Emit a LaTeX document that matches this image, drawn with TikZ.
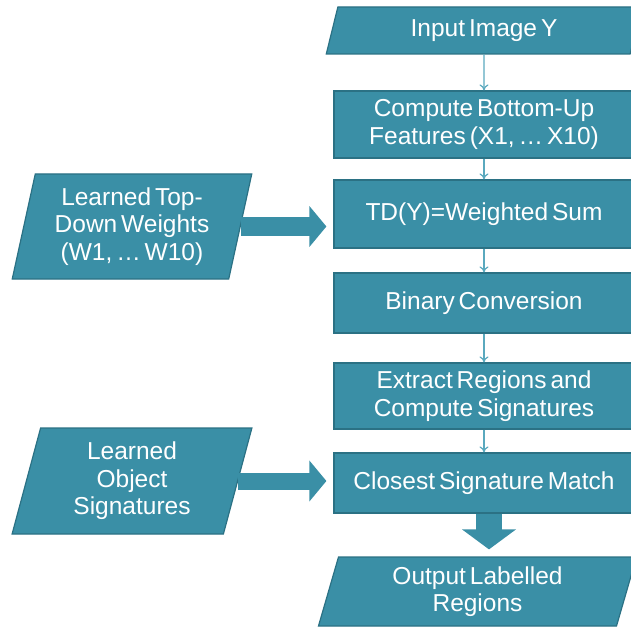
\documentclass[tikz,border=0pt]{standalone}
\usepackage{fontspec}
\setmainfont{Liberation Sans}
\usetikzlibrary{shapes.geometric}
\usetikzlibrary{arrows.meta}
\definecolor{tealfill}{HTML}{3A8FA6}
\definecolor{tealedge}{HTML}{2B7184}
\definecolor{tealline}{HTML}{5AA9BE}
\newcommand{\boxfont}{\fontsize{24.5}{27.5}\selectfont\spaceskip=0.16em plus 0.05em\relax}

\begin{document}
\begin{tikzpicture}[x=1pt,y=-1pt]
	\tikzstyle{stepbox}=[rectangle, draw=tealedge, fill=tealfill, line width=1.2pt, text=white, align=center, minimum width=300pt, inner sep=2pt, font=\boxfont]
	\tikzstyle{iobox}=[stepbox, trapezium, trapezium left angle=77, trapezium right angle=103, trapezium stretches=true]
	\tikzstyle{flowline}=[draw=tealline, line width=1.2pt, -{To[length=6pt,width=9pt]}]
	\tikzstyle{blockarrow}=[draw=tealfill, line width=19pt, -{Triangle[length=17pt,width=40pt]}]

	\useasboundingbox (0,0) rectangle (631,628);
	\clip (0,0) rectangle (631,628);

	% main column
	\node[iobox, minimum width=316pt, minimum height=47pt] (in) at (484,30.5) {Input Image Y};
	\node[stepbox, minimum height=67pt] (feat) at (484,124.5) {Compute Bottom-Up\\Features (X1, … X10)};
	\node[stepbox, minimum height=68pt] (td) at (484,214) {TD(Y)=Weighted Sum};
	\node[stepbox, minimum height=60pt] (bin) at (484,303) {Binary Conversion};
	\node[stepbox, minimum height=66pt] (ext) at (484,396) {Extract Regions and\\Compute Signatures};
	\node[stepbox, minimum height=60pt] (match) at (484,483) {Closest Signature Match};
	\node[iobox, minimum width=319pt, minimum height=69pt] (out) at (477.5,591.5) {Output Labelled\\Regions};

	% learned inputs
	\node[iobox, minimum width=240pt, minimum height=105pt] (wts) at (132,226.5) {Learned Top-\\Down Weights\\(W1, … W10)};
	\node[iobox, minimum width=240pt, minimum height=106pt] (sig) at (132,481) {Learned\\Object\\Signatures};

	\draw[flowline] (in) -- (feat);
	\draw[flowline] (feat) -- (td);
	\draw[flowline] (td) -- (bin);
	\draw[flowline] (bin) -- (ext);
	\draw[flowline] (ext) -- (match);

	\draw[blockarrow, shorten >=7pt] (wts.east) -- (wts.east -| td.west);
	\draw[blockarrow, line width=17pt, shorten >=7pt] (sig.east) -- (sig.east -| match.west);
	\draw[blockarrow, line width=26pt, -{Triangle[length=20pt,width=53pt]}, shorten >=7pt] ([xshift=5pt]match.south) -- ([xshift=5pt]match.south |- out.north);
\end{tikzpicture}
\end{document}
